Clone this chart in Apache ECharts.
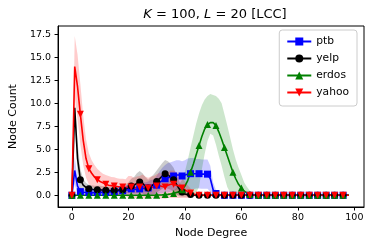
<!DOCTYPE html>
<html>
<head>
<meta charset="utf-8">
<script src="https://cdn.jsdelivr.net/npm/echarts@6/dist/echarts.min.js"></script>
<style>html,body{margin:0;padding:0;background:#fff}#c{width:374px;height:249px}</style>
</head>
<body>
<div id="c"></div>
<script>
// Node degree 0..98
const degrees = Array.from({length: 99}, (_, i) => i);
const seriesNames = ['ptb', 'yelp', 'erdos', 'yahoo'];
const xTicks = [0, 20, 40, 60, 80, 100];
const yTicks = [0, 2.5, 5, 7.5, 10, 12.5, 15, 17.5];

const ptbMean = [
  0, 2.7, 1.0, 0.4, 0.3, 0.3, 0.3, 0.25, 0.3, 0.3,
  0.35, 0.3, 0.3, 0.35, 0.4, 0.4, 0.45, 0.5, 0.5, 0.55,
  0.6, 0.7, 0.7, 0.6, 0.7, 0.8, 0.7, 0.8, 0.9, 0.9,
  1.1, 1.4, 1.6, 1.8, 1.9, 2.0, 2.1, 2.2, 2.2, 2.1,
  2.2, 2.3, 2.35, 2.35, 2.35, 2.35, 2.3, 2.3, 2.3, 1.8,
  0.6, 0.2, 0.05, 0, 0, 0, 0, 0, 0, 0,
  0, 0, 0, 0, 0, 0, 0, 0, 0, 0,
  0, 0, 0, 0, 0, 0, 0, 0, 0, 0,
  0, 0, 0, 0, 0, 0, 0, 0, 0, 0,
  0, 0, 0, 0, 0, 0, 0, 0, 0
];
const ptbStd = [
  0, 1.5, 0.8, 0.4, 0.3, 0.3, 0.3, 0.3, 0.3, 0.3,
  0.3, 0.3, 0.3, 0.3, 0.3, 0.3, 0.4, 0.5, 0.5, 0.5,
  0.6, 0.6, 0.6, 0.6, 0.6, 0.7, 0.7, 0.7, 0.8, 0.8,
  1.0, 1.2, 1.4, 1.5, 1.6, 1.6, 1.6, 1.6, 1.6, 1.6,
  1.6, 1.7, 1.7, 1.7, 1.6, 1.6, 1.6, 1.6, 1.6, 1.4,
  0.8, 0.4, 0.1, 0, 0, 0, 0, 0, 0, 0,
  0, 0, 0, 0, 0, 0, 0, 0, 0, 0,
  0, 0, 0, 0, 0, 0, 0, 0, 0, 0,
  0, 0, 0, 0, 0, 0, 0, 0, 0, 0,
  0, 0, 0, 0, 0, 0, 0, 0, 0
];
const yelpMean = [
  0, 9.5, 4.0, 1.7, 1.1, 0.85, 0.7, 0.65, 0.6, 0.6,
  0.6, 0.55, 0.55, 0.5, 0.5, 0.55, 0.55, 0.6, 0.6, 0.7,
  0.8, 1.0, 1.1, 1.3, 1.45, 1.3, 1.0, 0.8, 1.0, 1.2,
  1.5, 1.8, 2.1, 2.35, 2.2, 2.0, 1.7, 1.2, 0.7, 0.35,
  0.15, 0.05, 0.1, 0.05, 0, 0, 0, 0, 0, 0,
  0, 0, 0, 0, 0, 0, 0, 0, 0, 0,
  0, 0, 0, 0, 0, 0, 0, 0, 0, 0,
  0, 0, 0, 0, 0, 0, 0, 0, 0, 0,
  0, 0, 0, 0, 0, 0, 0, 0, 0, 0,
  0, 0, 0, 0, 0, 0, 0, 0, 0
];
const yelpStd = [
  0, 1.0, 1.8, 1.2, 0.7, 0.5, 0.45, 0.45, 0.45, 0.45,
  0.45, 0.45, 0.45, 0.45, 0.45, 0.45, 0.45, 0.45, 0.45, 0.45,
  0.6, 0.8, 0.9, 1.1, 1.2, 1.1, 1.0, 0.9, 1.0, 1.1,
  1.2, 1.3, 1.4, 1.5, 1.5, 1.4, 1.3, 1.1, 0.8, 0.5,
  0.3, 0.15, 0.15, 0.1, 0, 0, 0, 0, 0, 0,
  0, 0, 0, 0, 0, 0, 0, 0, 0, 0,
  0, 0, 0, 0, 0, 0, 0, 0, 0, 0,
  0, 0, 0, 0, 0, 0, 0, 0, 0, 0,
  0, 0, 0, 0, 0, 0, 0, 0, 0, 0,
  0, 0, 0, 0, 0, 0, 0, 0, 0
];
const erdosMean = [
  0, 0, 0, 0, 0, 0, 0, 0, 0, 0,
  0, 0, 0, 0, 0, 0, 0, 0, 0, 0,
  0, 0, 0, 0, 0, 0, 0, 0, 0, 0,
  0.02, 0.03, 0.05, 0.08, 0.1, 0.15, 0.2, 0.3, 0.4, 0.6,
  1.0, 1.6, 2.5, 3.4, 4.4, 5.4, 6.4, 7.2, 7.7, 7.9,
  7.9, 7.6, 6.9, 6.1, 5.2, 4.3, 3.4, 2.5, 1.8, 1.2,
  0.8, 0.45, 0.25, 0.1, 0.05, 0, 0, 0, 0, 0,
  0, 0, 0, 0, 0, 0, 0, 0, 0, 0,
  0, 0, 0, 0, 0, 0, 0, 0, 0, 0,
  0, 0, 0, 0, 0, 0, 0, 0, 0
];
const erdosLow = [
  0, 0, 0, 0, 0, 0, 0, 0, 0, 0,
  0, 0, 0, 0, 0, 0, 0, 0, 0, 0,
  0, 0, 0, 0, 0, 0, 0, 0, 0, 0,
  0, 0, 0, 0, 0, 0, 0, 0, 0, 0,
  0, 0, 0.05, 0.1, 0.3, 0.9, 2.8, 4.5, 5.9, 6.7,
  6.5, 5.5, 4.3, 3.2, 2.0, 0.9, 0.3, 0.1, 0, 0,
  0, 0, 0, 0, 0, 0, 0, 0, 0, 0,
  0, 0, 0, 0, 0, 0, 0, 0, 0, 0,
  0, 0, 0, 0, 0, 0, 0, 0, 0, 0,
  0, 0, 0, 0, 0, 0, 0, 0, 0
];
const erdosHigh = [
  0, 0, 0, 0, 0, 0, 0, 0, 0, 0,
  0, 0, 0, 0, 0, 0, 0, 0, 0, 0,
  0, 0, 0, 0, 0, 0, 0, 0, 0, 0,
  0.05, 0.06, 0.1, 0.15, 0.2, 0.3, 0.5, 0.8, 1.2, 1.7,
  2.6, 3.8, 5.2, 6.5, 7.8, 8.9, 9.8, 10.4, 10.8, 11.0,
  10.9, 10.8, 10.5, 10.0, 8.8, 7.6, 6.3, 5.0, 3.9, 3.0,
  2.2, 1.4, 0.9, 0.5, 0.25, 0.1, 0, 0, 0, 0,
  0, 0, 0, 0, 0, 0, 0, 0, 0, 0,
  0, 0, 0, 0, 0, 0, 0, 0, 0, 0,
  0, 0, 0, 0, 0, 0, 0, 0, 0
];
const yahooMean = [
  0, 14.0, 11.8, 8.8, 6.0, 4.0, 2.9, 2.4, 2.0, 1.7,
  1.5, 1.35, 1.2, 1.1, 1.05, 1.0, 0.95, 0.9, 0.9, 0.85,
  0.9, 0.9, 0.8, 0.85, 0.9, 0.95, 0.85, 0.8, 0.85, 0.9,
  1.0, 1.05, 0.95, 0.9, 1.1, 1.2, 1.2, 1.1, 1.0, 0.8,
  0.6, 0.4, 0.25, 0.15, 0.05, 0, 0, 0, 0, 0,
  0, 0, 0, 0, 0, 0, 0, 0, 0, 0,
  0, 0, 0, 0, 0, 0, 0, 0, 0, 0,
  0, 0, 0, 0, 0, 0, 0, 0, 0, 0,
  0, 0, 0, 0, 0, 0, 0, 0, 0, 0,
  0, 0, 0, 0, 0, 0, 0, 0, 0
];
const yahooStd = [
  0, 3.3, 3.5, 3.3, 2.7, 2.1, 1.7, 1.4, 1.3, 1.2,
  1.1, 1.0, 1.0, 1.0, 0.95, 0.95, 0.9, 0.9, 0.9, 0.9,
  1.2, 1.2, 1.1, 1.2, 1.2, 1.3, 1.2, 1.1, 1.2, 1.2,
  1.3, 1.4, 1.3, 1.3, 1.4, 1.5, 1.5, 1.4, 1.3, 1.1,
  0.9, 0.7, 0.5, 0.3, 0.1, 0, 0, 0, 0, 0,
  0, 0, 0, 0, 0, 0, 0, 0, 0, 0,
  0, 0, 0, 0, 0, 0, 0, 0, 0, 0,
  0, 0, 0, 0, 0, 0, 0, 0, 0, 0,
  0, 0, 0, 0, 0, 0, 0, 0, 0, 0,
  0, 0, 0, 0, 0, 0, 0, 0, 0
];

const FONT = 'DejaVu Sans';
const MARK_EVERY = 3;

function lineSeries(name, mean, color, symbol, rotate) {
  return {
    name: name, type: 'line', symbol: symbol, symbolSize: 7, symbolRotate: rotate || 0,
    showAllSymbol: true, animation: false, silent: true,
    lineStyle: {color: color, width: 1.6},
    itemStyle: {color: color, borderWidth: 0},
    data: degrees.map((d, i) => (i % MARK_EVERY === 0 ? {value: [d, mean[i]]} : {value: [d, mean[i]], symbol: 'none'}))
  };
}
// Shaded band drawn as one polygon, vertices placed through the axes' scales (api.coord)
function bandSeries(name, lower, upper, fill) {
  return {
    name: 'band_' + name, type: 'custom', silent: true, animation: false,
    data: degrees.map((d, i) => [d, lower[i], upper[i]]),
    encode: {x: 0, y: [1, 2]},
    renderItem: function (params, api) {
      if (params.dataIndex !== 0) return null;
      const pts = [];
      for (let i = 0; i < degrees.length; i++) pts.push(api.coord([degrees[i], upper[i]]));
      for (let i = degrees.length - 1; i >= 0; i--) pts.push(api.coord([degrees[i], lower[i]]));
      return {type: 'polygon', shape: {points: pts}, style: {fill: fill, stroke: null}};
    }
  };
}
const sub = (a, b) => a.map((v, i) => v - b[i]);
const add = (a, b) => a.map((v, i) => v + b[i]);

const series = [
  lineSeries('ptb', ptbMean, '#0000ff', 'rect'),
  bandSeries('ptb', sub(ptbMean, ptbStd), add(ptbMean, ptbStd), 'rgba(0,0,255,0.2)'),
  lineSeries('yelp', yelpMean, '#000000', 'circle'),
  bandSeries('yelp', sub(yelpMean, yelpStd), add(yelpMean, yelpStd), 'rgba(0,0,0,0.2)'),
  lineSeries('erdos', erdosMean, '#008000', 'triangle'),
  bandSeries('erdos', erdosLow, erdosHigh, 'rgba(0,128,0,0.2)'),
  lineSeries('yahoo', yahooMean, '#ff0000', 'triangle', 180),
  bandSeries('yahoo', sub(yahooMean, yahooStd), add(yahooMean, yahooStd), 'rgba(255,0,0,0.2)')
];

const chart = echarts.init(document.getElementById('c'), null, {renderer: 'canvas'});
chart.setOption({
  animation: false,
  backgroundColor: '#ffffff',
  title: {
    text: '{i|K} = 100, {i|L} = 20 [LCC]',
    left: 210, top: 3, textAlign: 'center',
    textStyle: {
      fontFamily: FONT, fontSize: 13, fontWeight: 'normal', color: '#000',
      rich: {i: {fontFamily: FONT, fontSize: 13, fontStyle: 'italic', color: '#000'}}
    }
  },
  grid: {left: 56, right: 10, top: 26, bottom: 42, show: true, borderColor: '#000', borderWidth: 1, backgroundColor: 'transparent'},
  legend: {
    data: seriesNames, orient: 'vertical', right: 17, top: 30,
    itemWidth: 24, itemHeight: 10, itemGap: 6,
    padding: [6, 8, 8, 7],
    backgroundColor: 'rgba(255,255,255,0.8)', borderColor: '#cccccc', borderWidth: 1, borderRadius: 3,
    textStyle: {fontFamily: FONT, fontSize: 10.7, color: '#000'}
  },
  xAxis: {
    type: 'value', min: -4.9, max: 103.4,
    name: 'Node Degree', nameLocation: 'middle', nameGap: 20,
    nameTextStyle: {fontFamily: FONT, fontSize: 11, color: '#000'},
    axisLine: {show: true, onZero: false, lineStyle: {color: '#000', width: 1}},
    axisTick: {show: true, inside: false, length: 3.5, customValues: xTicks, lineStyle: {color: '#000'}},
    axisLabel: {customValues: xTicks, margin: 6, fontFamily: FONT, fontSize: 9.5, color: '#000'},
    splitLine: {show: false}
  },
  yAxis: {
    type: 'value', min: -1.27, max: 18.4,
    name: 'Node Count', nameLocation: 'middle', nameGap: 37, nameRotate: 90,
    nameTextStyle: {fontFamily: FONT, fontSize: 11, color: '#000'},
    axisLine: {show: true, onZero: false, lineStyle: {color: '#000', width: 1}},
    axisTick: {show: true, inside: false, length: 3.5, customValues: yTicks, lineStyle: {color: '#000'}},
    axisLabel: {customValues: yTicks, margin: 7, fontFamily: FONT, fontSize: 9.5, color: '#000', formatter: v => Number(v).toFixed(1)},
    splitLine: {show: false}
  },
  series: series
});
</script>
</body>
</html>
